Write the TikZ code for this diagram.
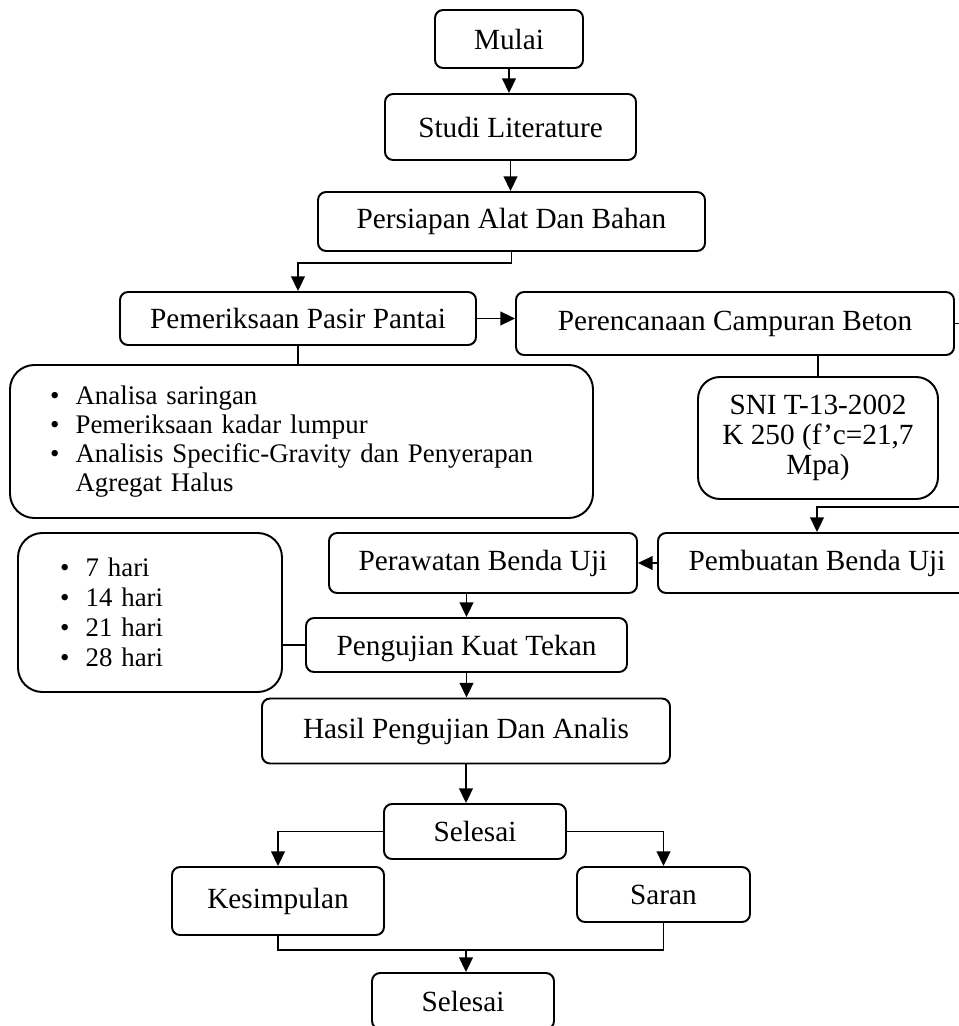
\documentclass[tikz,border=0pt]{standalone}
\usepackage{fontspec}
\setmainfont{Liberation Serif}
\usetikzlibrary{arrows.meta}
\tikzset{>={Triangle[length=6pt,width=5.6pt]}}
\tikzset{
  kotak/.style={draw, rounded corners=3.3pt, inner sep=0pt, align=center, font=\fontsize{12}{12.4}\selectfont},
  daftar/.style={draw, rounded corners=10pt, inner ysep=0pt, align=left},
  ukuran/.style 2 args={minimum width=#1*0.41pt, minimum height=#2*0.41pt}
}
\newcommand{\butir}{\makebox[10.5pt][l]{\textbullet}}

\begin{document}
\begin{tikzpicture}[x=0.41pt,y=-0.41pt,line width=0.8pt]
			\useasboundingbox (0,0) rectangle (958,1026);
			\coordinate (kanan) at (985,507);
			\coordinate (gabung) at (466,950);
			
			\node[kotak,ukuran={148}{58}] (mulai) at (509,39) {Mulai};
			\node[kotak,ukuran={251}{66}] (studi) at (510.5,127) {Studi Literature};
			\node[kotak,ukuran={387}{59}] (persiapan) at (511.5,221.5) {Persiapan Alat Dan Bahan};
			\node[kotak,ukuran={356}{53}] (pasir) at (298,318.5) {Pemeriksaan Pasir Pantai};
			\node[kotak,ukuran={438}{63}] (rencana) at (735,323.5) {Perencanaan Campuran Beton};
			\node[daftar,text width=503*0.41pt,inner xsep=40*0.41pt,minimum height=153*0.41pt,
				font=\fontsize{11}{11.9}\selectfont] (periksa) at (301.5,441.5)
				{\butir Analisa saringan\\ \butir Pemeriksaan kadar lumpur\\
				 \butir Analisis Specific-Gravity dan Penyerapan\\ \hspace*{10.5pt}Agregat Halus};
			\node[kotak,rounded corners=9pt,ukuran={240}{122}] (sni) at (818,438) {SNI T-13-2002\\K 250 (f’c=21,7\\Mpa)};
			
			\node[daftar,text width=180*0.41pt,inner xsep=42*0.41pt,minimum height=159*0.41pt,
				font=\fontsize{11}{12.3}\selectfont] (hari) at (150,612.5)
				{\butir 7 hari\\ \butir 14 hari\\ \butir 21 hari\\ \butir 28 hari};
			\node[kotak,ukuran={308}{60}] (rawat) at (483,563) {Perawatan Benda Uji};
			\node[kotak,ukuran={318}{60}] (buat) at (817,563) {Pembuatan Benda Uji};
			\node[kotak,ukuran={321}{54},text depth=0pt] (tekan) at (466.5,645) {Pengujian Kuat Tekan};
			\node[kotak,ukuran={408}{65}] (hasil) at (466,731) {Hasil Pengujian Dan Analis};
			\node[kotak,ukuran={182}{55}] (selesai) at (475,831.5) {Selesai};
			\node[kotak,ukuran={212}{68}] (simpul) at (278,901) {Kesimpulan};
			\node[kotak,ukuran={173}{55}] (saran) at (663.5,894.5) {Saran};
			\node[kotak,ukuran={182}{56}] (akhir) at (463,1001) {Selesai};
			
			\draw[->] (mulai.south) -- (mulai.south |- studi.north);
			\draw[->] (studi.south) -- (studi.south |- persiapan.north);
			\draw[->] (persiapan.south) -- ++(0,11) -| (pasir.north);
			\draw[->] (pasir.east) -- (rencana.west |- pasir.east);
			\draw[->] (rencana.east) -| (kanan) -| (buat.north);
			\draw (sni.north |- rencana.south) -- (sni.north);
			\draw (pasir.south) -- (pasir.south |- periksa.north);
			\draw[->] (buat.west) -- (rawat.east);
			\draw[->] (tekan.north |- rawat.south) -- (tekan.north);
			\draw (hari.east |- tekan.west) -- (tekan.west);
			\draw[->] (tekan.south) -- (tekan.south |- hasil.north);
			\draw[->] (hasil.south) -- (hasil.south |- selesai.north);
			\draw[->] (selesai.west) -| (simpul.north);
			\draw[->] (selesai.east) -| (saran.north);
			\draw (simpul.south) |- (gabung) -| (saran.south);
			\draw[->] (gabung) -- (gabung |- akhir.north);
			
		\end{tikzpicture}
\end{document}
